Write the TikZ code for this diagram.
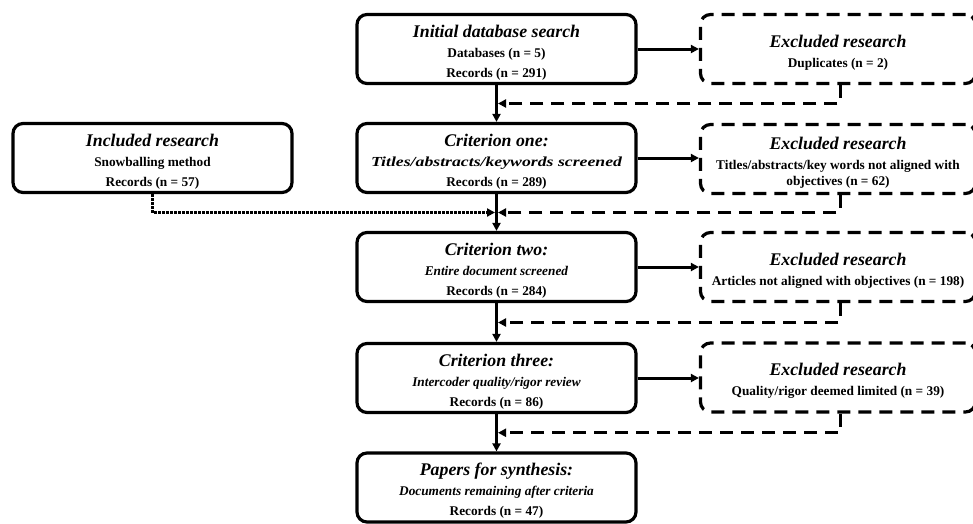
\documentclass[tikz,border=0pt]{standalone}
\usepackage{fontspec}
\usepackage{graphicx}
\setmainfont{Liberation Serif}
\usetikzlibrary{arrows.meta,calc}

% title line of every box; the strut sets the text a little lower in its box
\newcommand{\boxtitle}[1]{{\fontsize{17.8}{20}\selectfont\itshape\rule{0pt}{19.5pt}#1}}

\tikzset{
  x=1pt, y=-1pt,
  stagebox/.style={draw, line width=3.2pt, rounded corners=10pt,
    minimum width=279pt, minimum height=69pt, inner sep=0pt,
    align=center, font=\bfseries\fontsize{13.3}{20}\selectfont},
  exclbox/.style={stagebox, minimum width=275pt,
    dash pattern=on 13pt off 8pt},
  tip/.style={-{Triangle[length=8pt,width=8pt]}},
  flow/.style={line width=3pt, tip},
  exclflow/.style={line width=3pt, tip, dash pattern=on 13pt off 8pt},
  inclflow/.style={line width=3pt, tip, dash pattern=on 2.4pt off 1.6pt},
}

\begin{document}
\begin{tikzpicture}
\useasboundingbox (0,0) rectangle (973,523);
\begin{scope}
\clip (0,0) rectangle (973,523);

% main screening stages
\node[stagebox] (m1) at (496.5,49)
  {\boxtitle{Initial database search}\\ Databases (n = 5)\\ Records (n = 291)};
\node[stagebox] (m2) at (496.5,158)
  {\boxtitle{Criterion one:}\\
   \resizebox{251pt}{\height}{\fontsize{13.8}{20}\selectfont\itshape Titles/abstracts/keywords screened}\\
   Records (n = 289)};
\node[stagebox] (m3) at (496.5,267)
  {\boxtitle{Criterion two:}\\ \textit{Entire document screened}\\ Records (n = 284)};
\node[stagebox] (m4) at (496.5,378)
  {\boxtitle{Criterion three:}\\ \textit{Intercoder quality/rigor review}\\ Records (n = 86)};
\node[stagebox] (m5) at (496.5,487.5)
  {\boxtitle{Papers for synthesis:}\\ \textit{Documents remaining after criteria}\\ Records (n = 47)};

% records added by snowballing
\node[stagebox] (inc) at (152.5,158)
  {\boxtitle{Included research}\\ Snowballing method\\ Records (n = 57)};

% records removed at each stage
\node[exclbox] (e1) at (838,49)
  {\boxtitle{Excluded research}\\ Duplicates (n = 2)};
\node[exclbox] (e2) at (838,159)
  {\boxtitle{Excluded research}\\ Titles/abstracts/key words not aligned with\\[-4pt] objectives (n = 62)};
\node[exclbox] (e3) at (838,267)
  {\boxtitle{Excluded research}\\ Articles not aligned with objectives (n = 198)};
\node[exclbox] (e4) at (838,377.5)
  {\boxtitle{Excluded research}\\ Quality/rigor deemed limited (n = 39)};

% junctions on the main line, between stages
\coordinate (j1) at ($(m1.south)!0.5!(m2.north)$);
\coordinate (j2) at ($(m2.south)!0.5!(m3.north)$);
\coordinate (j3) at ($(m3.south)!0.5!(m4.north)$);
\coordinate (j4) at ($(m4.south)!0.5!(m5.north)$);

% main flow
\draw[flow] (m1.south) -- (m2.north);
\draw[flow] (m2.south) -- (m3.north);
\draw[flow] (m3.south) -- (m4.north);
\draw[flow] (m4.south) -- (m5.north);

% exclusions
\draw[flow] (m1.east) -- (e1.west);
\draw[flow] (m2.east) -- (e2.west |- m2.east);
\draw[flow] (m3.east) -- (e3.west);
\draw[flow] (m4.east) -- (e4.west |- m4.east);

% removed records returning to the main line
\draw[exclflow] ([xshift=2pt]e1.south) |- ([xshift=1.5pt]j1);
\draw[exclflow] ([xshift=2pt]e2.south) |- ([xshift=1.5pt]j2);
\draw[exclflow] ([xshift=2pt]e3.south) |- ([xshift=1.5pt]j3);
\draw[exclflow] ([xshift=2pt]e4.south) |- ([xshift=1.5pt]j4);

% snowballed records joining the main line
\draw[inclflow] (inc.south) |- ([xshift=-1.5pt]j2);
\end{scope}
\end{tikzpicture}
\end{document}
